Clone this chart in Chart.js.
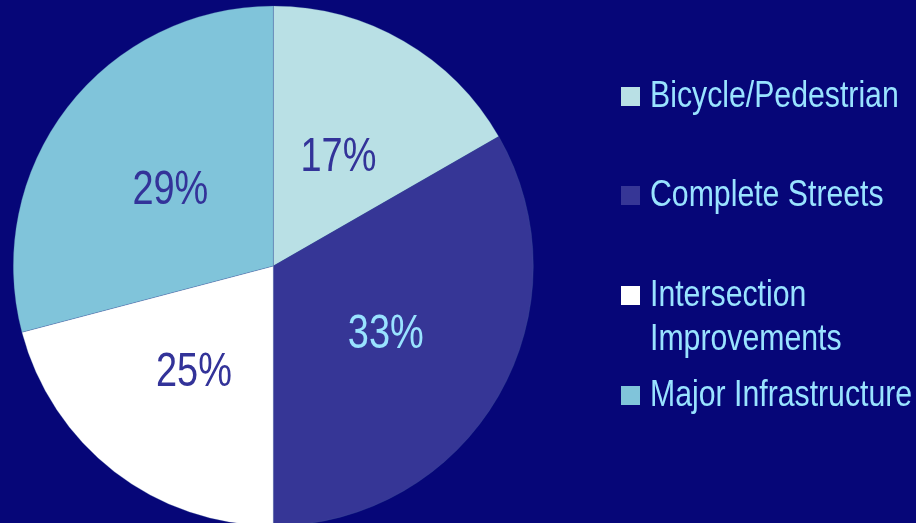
<!DOCTYPE html>
<html lang="en">
<head>
    <meta charset="UTF-8">
    <title>Project Type Share</title>
    <style>
        html, body {
            margin: 0;
            padding: 0;
            background-color: #060678;
            overflow: hidden;
        }

        #pie {
            display: block;
        }
    </style>
    <script src="https://cdn.jsdelivr.net/npm/chart.js"></script>
</head>
<body>
    <canvas id="pie" width="916" height="530"></canvas>
    <script>
        // values, printed labels as shown on the chart
        const categories = ['Bicycle/Pedestrian', 'Complete Streets', 'Intersection Improvements', 'Major Infrastructure'];
        const legendLines = [['Bicycle/Pedestrian'], ['Complete Streets'], ['Intersection', 'Improvements'], ['Major Infrastructure']];
        const shares = [16.7, 33.3, 20.9, 29.1];
        const shareLabels = ['17%', '33%', '25%', '29%'];

        const sliceColors = ['#b9e0e5', '#363696', '#ffffff', '#80c4da'];
        const labelColors = ['#333399', '#99e3ff', '#333399', '#333399'];
        const legendColor = '#99e3ff';

        // slice percentages written inside the pie
        const sliceText = {
            id: 'sliceText',
            afterDatasetsDraw(chart) {
                const ctx = chart.ctx;
                const meta = chart.getDatasetMeta(0);
                const size = 48;
                ctx.save();
                ctx.font = size + 'px "Liberation Sans", Arial, sans-serif';
                ctx.textAlign = 'center';
                ctx.textBaseline = 'alphabetic';
                meta.data.forEach((arc, i) => {
                    const p = arc.getCenterPoint();
                    ctx.save();
                    ctx.translate(p.x, p.y + size * 0.358);
                    ctx.scale(0.79, 1);
                    ctx.fillStyle = labelColors[i];
                    ctx.fillText(shareLabels[i], 0, 0);
                    ctx.restore();
                });
                ctx.restore();
            }
        };

        // legend on the right, one line or two per entry
        const sideLegend = {
            id: 'sideLegend',
            afterDraw(chart) {
                const ctx = chart.ctx;
                const x0 = 621;
                const tops = [87, 186, 286, 386];
                const box = 19;
                ctx.save();
                ctx.font = '36px "Liberation Sans", Arial, sans-serif';
                ctx.textBaseline = 'alphabetic';
                legendLines.forEach((lines, i) => {
                    ctx.fillStyle = sliceColors[i];
                    ctx.fillRect(x0, tops[i], box, box);
                    lines.forEach((line, j) => {
                        ctx.save();
                        ctx.translate(650, tops[i] + 20 + j * 44);
                        ctx.scale(0.84, 1);
                        ctx.fillStyle = legendColor;
                        ctx.fillText(line, 0, 0);
                        ctx.restore();
                    });
                });
                ctx.restore();
            }
        };

        new Chart(document.getElementById('pie'), {
            type: 'pie',
            data: {
                labels: categories,
                datasets: [{
                    data: shares,
                    backgroundColor: sliceColors,
                    borderColor: 'rgba(70, 100, 160, 0.45)',
                    borderWidth: 0.6,
                    hoverOffset: 0,
                    offset: 0
                }]
            },
            options: {
                responsive: false,
                animation: false,
                radius: 260,
                layout: {
                    padding: { left: 13.3, top: 6, right: 382.7, bottom: 4 }
                },
                plugins: {
                    legend: { display: false },
                    tooltip: { enabled: false }
                },
                events: []
            },
            plugins: [sliceText, sideLegend]
        });
    </script>
</body>
</html>
